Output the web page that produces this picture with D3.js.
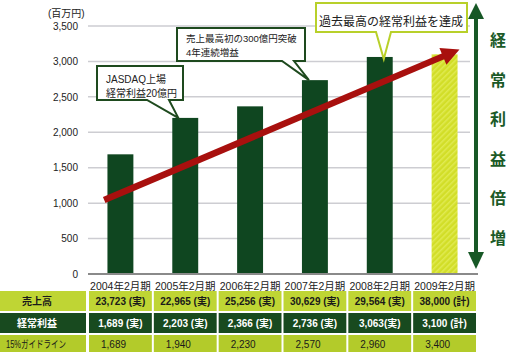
<!DOCTYPE html>
<html>
<head>
<meta charset="utf-8">
<script src="https://cdn.jsdelivr.net/npm/d3@7"></script>
<style>
  body { margin: 0; background: #fff; }
  svg { display: block; font-family: "Liberation Sans", Arial, "Noto Sans CJK JP", sans-serif; }
</style>
</head>
<body>
<div id="chart"></div>
<script>
// data
var periods = ["2004年2月期", "2005年2月期", "2006年2月期", "2007年2月期", "2008年2月期", "2009年2月期"];
var ordinaryProfit = [1689, 2203, 2366, 2736, 3063, 3100];
var forecastFlag = [false, false, false, false, false, true];
var salesLabels = ["23,723 (実)", "22,965 (実)", "25,256 (実)", "30,629 (実)", "29,564 (実)", "38,000 (計)"];
var profitLabels = ["1,689 (実)", "2,203 (実)", "2,366 (実)", "2,736 (実)", "3,063(実)", "3,100 (計)"];
var guideLabels = ["1,689", "1,940", "2,230", "2,570", "2,960", "3,400"];
var rowNames = ["売上高", "経常利益", "15%ガイドライン"];
var yTicks = [0, 500, 1000, 1500, 2000, 2500, 3000, 3500];
var sideText = ["経", "常", "利", "益", "倍", "増"];
// trend arrow, in (period index, value)
var trendArrow = [[-0.25, 1045], [5.23, 3170]];

var width = 514, height = 352;

var svg = d3.select("#chart").append("svg")
  .attr("width", width)
  .attr("height", height);

var defs = svg.append("defs");
var pat = defs.append("pattern")
  .attr("id", "hatch")
  .attr("patternUnits", "userSpaceOnUse")
  .attr("width", 4).attr("height", 4)
  .attr("patternTransform", "rotate(45)");
pat.append("rect").attr("width", 4).attr("height", 4).attr("fill", "#d2de28");
pat.append("rect").attr("width", 1.5).attr("height", 4).attr("fill", "#e0ea52");

// scales
var x = d3.scaleBand().domain(periods).range([88, 477]).paddingInner(0.6).paddingOuter(0.3);
var xi = d3.scaleLinear().domain([0, 5]).range([x(periods[0]) + x.bandwidth() / 2, x(periods[5]) + x.bandwidth() / 2]);
var y = d3.scaleLinear().domain([0, 3500]).range([274, 26]);

// gridlines
svg.append("g").selectAll("line")
  .data(yTicks.slice(1))
  .enter().append("line")
  .attr("x1", 88).attr("x2", 470)
  .attr("y1", function (d) { return y(d); })
  .attr("y2", function (d) { return y(d); })
  .style("stroke", "#cdcdd2")
  .style("stroke-width", 1.5);

// y axis labels
var yAxis = svg.append("g")
  .attr("transform", "translate(78,0)")
  .call(d3.axisLeft(y).tickValues(yTicks).tickSize(0).tickPadding(0).tickFormat(d3.format(",")));
yAxis.select(".domain").remove();
yAxis.selectAll("text").style("font-size", "10px").style("fill", "#222")
  .style("font-family", "'Liberation Sans', Arial, sans-serif");

svg.append("text")
  .attr("x", 48).attr("y", 17)
  .style("font-size", "10px").style("fill", "#222")
  .text("(百万円)");

// bars
svg.append("g").selectAll("rect")
  .data(ordinaryProfit)
  .enter().append("rect")
  .attr("x", function (d, i) { return x(periods[i]); })
  .attr("y", function (d) { return y(d); })
  .attr("width", x.bandwidth())
  .attr("height", function (d) { return y(0) - y(d); })
  .attr("fill", function (d, i) { return forecastFlag[i] ? "url(#hatch)" : "#0f4620"; });

// baseline
svg.append("line")
  .attr("x1", 88).attr("x2", 478)
  .attr("y1", y(0)).attr("y2", y(0))
  .style("stroke", "#8a8a8a").style("stroke-width", 2);

// red trend arrow
var ax0 = xi(trendArrow[0][0]), ay0 = y(trendArrow[0][1]);
var ax1 = xi(trendArrow[1][0]), ay1 = y(trendArrow[1][1]);
var len = Math.sqrt((ax1 - ax0) * (ax1 - ax0) + (ay1 - ay0) * (ay1 - ay0));
var ux = (ax1 - ax0) / len, uy = (ay1 - ay0) / len;
var headL = 18, headW = 9;
var bx = ax1 - ux * headL, by = ay1 - uy * headL;
svg.append("line")
  .attr("x1", ax0).attr("y1", ay0).attr("x2", bx + ux * 2).attr("y2", by + uy * 2)
  .style("stroke", "#a8100e").style("stroke-width", 6.5);
svg.append("path")
  .attr("d", "M" + ax1 + "," + ay1 +
    "L" + (bx - uy * headW) + "," + (by + ux * headW) +
    "L" + (bx + uy * headW) + "," + (by - ux * headW) + "Z")
  .attr("fill", "#a8100e");

// green double arrow on the right
var gx = 476;
var ga = svg.append("g").attr("fill", "#175826");
ga.append("rect").attr("x", gx - 2).attr("y", 14).attr("width", 4).attr("height", 244);
ga.append("path").attr("d", "M" + gx + ",3L" + (gx + 8) + ",19L" + (gx - 8) + ",19Z");
ga.append("path").attr("d", "M" + gx + ",269L" + (gx + 8) + ",252L" + (gx - 8) + ",252Z");

// side text
var sy = d3.scaleLinear().domain([0, sideText.length - 1]).range([40, 238]);
svg.append("g").selectAll("text")
  .data(sideText)
  .enter().append("text")
  .attr("x", 498)
  .attr("y", function (d, i) { return sy(i) + 6; })
  .attr("text-anchor", "middle")
  .style("font-size", "16px")
  .style("font-weight", "bold")
  .style("font-family", "'Noto Sans CJK JP', sans-serif")
  .style("fill", "#1b5a27")
  .text(function (d) { return d; });

// callouts
function callout(box, base, tip, stroke, lines, fs, tx, ty, lh) {
  var g = svg.append("g");
  var x0 = box[0], y0 = box[1], x1 = box[2], y1 = box[3];
  g.append("path")
    .attr("d", "M" + x0 + "," + y0 + "L" + x1 + "," + y0 + "L" + x1 + "," + y1 +
      "L" + base[1] + "," + y1 + "L" + tip[0] + "," + tip[1] + "L" + base[0] + "," + y1 +
      "L" + x0 + "," + y1 + "Z")
    .attr("fill", "#fff")
    .attr("stroke", stroke)
    .attr("stroke-width", 2)
    .attr("stroke-linejoin", "miter");
  g.selectAll("text")
    .data(lines)
    .enter().append("text")
    .attr("x", tx)
    .attr("y", function (d, i) { return ty + i * lh; })
    .attr("text-anchor", lines.length === 1 ? "middle" : "start")
    .style("font-size", fs + "px")
    .style("fill", "#222")
    .text(function (d) { return d; });
}

callout([97, 66, 183, 100], [147, 169], [x(periods[1]) + 6, y(ordinaryProfit[1])], "#1e4a1e",
  ["JASDAQ上場", "経常利益20億円"], 10, 106, 83, 13.5);
callout([177, 28, 305, 61], [282, 294], [x(periods[3]) + 7, y(ordinaryProfit[3])], "#1e4a1e",
  ["売上最高初の300億円突破", "4年連続増益"], 9.5, 186, 42, 13.5);
callout([316, 3, 467, 32], [376, 391], [x(periods[4]) + 17, y(ordinaryProfit[4]) + 2], "#b8d02a",
  ["過去最高の経常利益を達成"], 12, 391, 26, 0);

// category labels
svg.append("g").selectAll("text")
  .data(periods)
  .enter().append("text")
  .attr("x", function (d) { return x(d) + x.bandwidth() / 2; })
  .attr("y", 290)
  .attr("text-anchor", "middle")
  .style("font-size", "10.5px")
  .style("fill", "#222")
  .text(function (d) { return d; });

// table
var rows = [
  { top: 291, h: 20, fill: "#bfd534", color: "#1a1a1a", weight: "bold", labels: salesLabels, align: "middle" },
  { top: 313, h: 20, fill: "#184a1f", color: "#ffffff", weight: "bold", labels: profitLabels, align: "middle" },
  { top: 335, h: 17, fill: "#b3cb2a", color: "#1a1a1a", weight: "normal", labels: guideLabels, align: "start" }
];
var step = x.step();
var colLeft = function (i) { return x(periods[i]) - x.paddingOuter() * step; };

rows.forEach(function (r, ri) {
  var g = svg.append("g");
  g.append("rect").attr("x", 0).attr("y", r.top).attr("width", 86).attr("height", r.h).attr("fill", r.fill);
  var lab = g.append("text")
    .attr("y", r.top + r.h / 2 + 4)
    .style("font-size", "10px")
    .style("font-weight", r.weight)
    .style("fill", r.color)
    .text(rowNames[ri]);
  if (ri === 2) {
    lab.attr("x", 6).attr("textLength", 60).attr("lengthAdjust", "spacingAndGlyphs");
  } else {
    lab.attr("x", 37).attr("text-anchor", "middle");
  }
  g.selectAll(".cell")
    .data(r.labels)
    .enter().append("rect")
    .attr("x", function (d, i) { return colLeft(i) + 1; })
    .attr("y", r.top)
    .attr("width", step - 2)
    .attr("height", r.h)
    .attr("fill", r.fill);
  g.selectAll(".val")
    .data(r.labels)
    .enter().append("text")
    .attr("x", function (d, i) { return r.align === "middle" ? colLeft(i) + step / 2 : colLeft(i) + 13; })
    .attr("y", r.top + r.h / 2 + 4)
    .attr("text-anchor", r.align)
    .style("font-size", "10px")
    .style("font-weight", r.weight)
    .style("fill", r.color)
    .text(function (d) { return d; });
});
</script>
</body>
</html>
